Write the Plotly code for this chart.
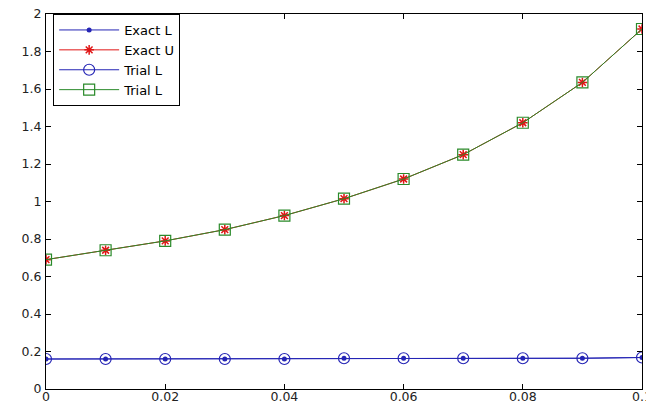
import plotly.graph_objects as go

x_vals = [0, 0.01, 0.02, 0.03, 0.04, 0.05, 0.06, 0.07, 0.08, 0.09, 0.1]
exact_L = [0.160, 0.160, 0.160, 0.160, 0.160, 0.164, 0.164, 0.164, 0.164, 0.164, 0.168]
exact_U = [0.69, 0.74, 0.79, 0.85, 0.925, 1.015, 1.12, 1.25, 1.42, 1.635, 1.92]
trial_L_low = [0.160, 0.160, 0.160, 0.160, 0.160, 0.164, 0.164, 0.164, 0.164, 0.164, 0.168]
trial_L_up = [0.69, 0.74, 0.79, 0.85, 0.925, 1.015, 1.12, 1.25, 1.42, 1.635, 1.92]
x_ticks = [0, 0.02, 0.04, 0.06, 0.08, 0.1]
x_ticktext = ["0", "0.02", "0.04", "0.06", "0.08", "0.1"]
y_ticks = [0, 0.2, 0.4, 0.6, 0.8, 1, 1.2, 1.4, 1.6, 1.8, 2]
y_ticktext = ["0", "0.2", "0.4", "0.6", "0.8", "1", "1.2", "1.4", "1.6", "1.8", "2"]

blue = "#2525b5"
red = "#e01515"
green = "#2a8a2a"

fig = go.Figure()
fig.add_trace(go.Scatter(x=x_vals, y=exact_L, name="Exact L", mode="lines+markers",
                         line=dict(color=blue, width=1),
                         marker=dict(symbol="circle", size=5, color=blue)))
fig.add_trace(go.Scatter(x=x_vals, y=exact_U, name="Exact U", mode="lines+markers",
                         line=dict(color=red, width=1),
                         marker=dict(symbol="asterisk-open", size=8, color=red, line=dict(color=red, width=1.5))))
fig.add_trace(go.Scatter(x=x_vals, y=trial_L_low, name="Trial L", mode="lines+markers",
                         line=dict(color=blue, width=1),
                         marker=dict(symbol="circle-open", size=11, color=blue, line=dict(color=blue, width=1.2))))
fig.add_trace(go.Scatter(x=x_vals, y=trial_L_up, name="Trial L", mode="lines+markers",
                         line=dict(color=green, width=1),
                         marker=dict(symbol="square-open", size=11, color=green, line=dict(color=green, width=1.2))))

axis_common = dict(showgrid=False, zeroline=False, showline=True, linecolor="black", linewidth=1,
                   mirror="ticks", ticks="inside", ticklen=5, tickcolor="black", automargin=False,
                   ticklabeloverflow="allow",
                   tickfont=dict(family="DejaVu Sans, Arial", size=12.5, color="#222222"))

fig.update_layout(
    width=646, height=403,
    margin=dict(l=46, r=4, t=14, b=14),
    paper_bgcolor="white", plot_bgcolor="white",
    xaxis=dict(range=[0, 0.1], tickvals=x_ticks, ticktext=x_ticktext, ticklabelstandoff=-4, **axis_common),
    yaxis=dict(range=[0, 2], tickvals=y_ticks, ticktext=y_ticktext, ticklabelstandoff=1, **axis_common),
    legend=dict(x=0.012, y=1, xanchor="left", yanchor="top", bgcolor="white",
                bordercolor="black", borderwidth=1, tracegroupgap=0,
                font=dict(family="DejaVu Sans, Arial", size=13, color="black"),
                itemwidth=60),
    showlegend=True,
)

fig.write_html("out.html", config={"displayModeBar": False},
               post_script="document.body.style.margin='0';document.body.style.overflow='hidden';")
